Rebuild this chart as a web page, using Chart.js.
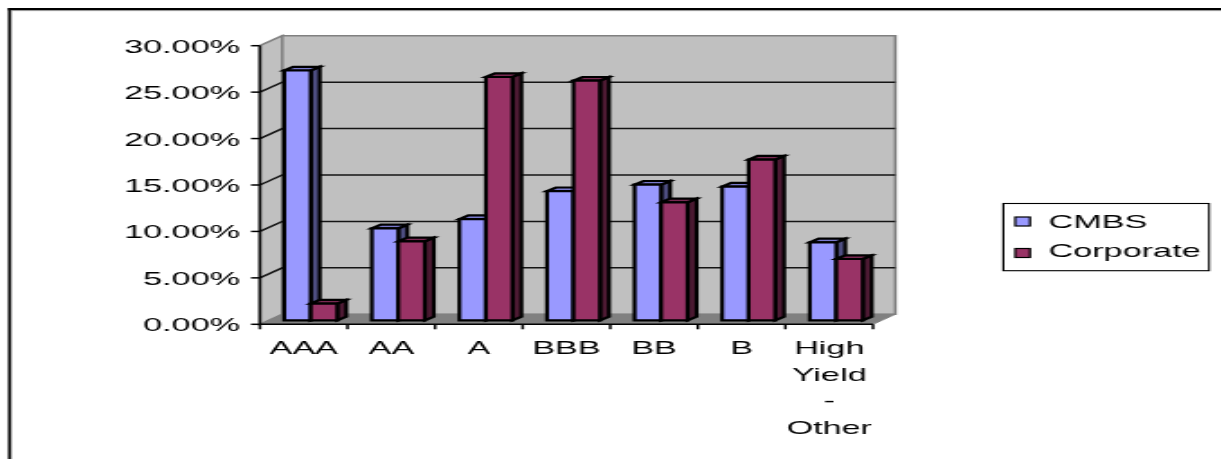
<!DOCTYPE html>
<html><head><meta charset="utf-8">
<script src="https://cdn.jsdelivr.net/npm/chart.js@4/dist/chart.umd.min.js"></script>
<style>
html,body{margin:0;padding:0;background:#fff;overflow:hidden;width:1221px;height:459px}
#wrap{width:679px;height:459px;transform:scale(1.8,1);transform-origin:0 0}
canvas{display:block}
</style></head><body>
<div id="wrap"><canvas id="c" width="679" height="459"></canvas></div>
<script>
const categories = ['AAA', 'AA', 'A', 'BBB', 'BB', 'B', ['High', 'Yield', '-', 'Other']];
const cmbs = [26.9, 9.9, 10.9, 13.9, 14.6, 14.4, 8.4];
const corporate = [1.8, 8.5, 26.2, 25.8, 12.7, 17.3, 6.6];
const yTicks = [0, 5, 10, 15, 20, 25, 30];
const yTickLabels = ['0.00%', '5.00%', '10.00%', '15.00%', '20.00%', '25.00%', '30.00%'];
const seriesNames = ['CMBS', 'Corporate'];

const FONT = '19px "Liberation Sans", Arial, sans-serif';
const WALL = {dx: 12.4, dy: -10};                      // depth of the back wall
const BAR = {dx: 3.9, dy: -4, depth: 5, rise: -3.7};   // bar position in the box and bar depth
const faces = [
  {front: '#9999FF', top: '#7878cc', side: '#4d4d80'},
  {front: '#993366', top: '#7a2952', side: '#4d1a33'}
];

function poly(ctx, pts, fill, stroke, lw) {
  ctx.beginPath();
  ctx.moveTo(pts[0][0], pts[0][1]);
  for (let i = 1; i < pts.length; i++) ctx.lineTo(pts[i][0], pts[i][1]);
  ctx.closePath();
  if (fill) { ctx.fillStyle = fill; ctx.fill(); }
  if (stroke) { ctx.strokeStyle = stroke; ctx.lineWidth = lw; ctx.lineJoin = 'miter'; ctx.stroke(); }
}

const box3d = {
  id: 'box3d',
  beforeDatasetsDraw(chart) {
    const {ctx, chartArea: a, scales: {y}} = chart;
    const L = a.left, R = a.right, T = a.top, B = a.bottom, dx = WALL.dx, dy = WALL.dy;
    ctx.save();
    // walls and floor
    poly(ctx, [[L, T], [L + dx, T + dy], [L + dx, B + dy], [L, B]], '#c0c0c0', '#808080', 1.6);
    poly(ctx, [[L + dx, T + dy], [R + dx, T + dy], [R + dx, B + dy], [L + dx, B + dy]], '#c0c0c0', '#808080', 1.6);
    poly(ctx, [[L, B], [R, B], [R + dx, B + dy], [L + dx, B + dy]], '#808080', '#808080', 1);
    // gridlines across side and back wall
    ctx.strokeStyle = '#141414';
    ctx.lineWidth = 1.5;
    yTicks.forEach(v => {
      if (v === yTicks[0] || v === yTicks[yTicks.length - 1]) return;
      const py = y.getPixelForValue(v);
      ctx.beginPath();
      ctx.moveTo(L, py);
      ctx.lineTo(L + dx, py + dy);
      ctx.lineTo(R + dx, py + dy);
      ctx.stroke();
    });
    // 3D columns
    const metas = chart.data.datasets.map((d, i) => chart.getDatasetMeta(i));
    for (let c = 0; c < categories.length; c++) {
      metas.forEach((m, si) => {
        const el = m.data[c];
        const w = el.width;
        const x0 = el.x - w / 2 + BAR.dx, x1 = el.x + w / 2 + BAR.dx;
        const top = el.y + BAR.dy, bot = el.base + BAR.dy;
        const f = faces[si], ddx = BAR.depth, ddy = BAR.rise;
        poly(ctx, [[x1, top], [x1 + ddx, top + ddy], [x1 + ddx, bot + ddy], [x1, bot]], f.side, '#000', 2.2);
        poly(ctx, [[x0, top], [x0 + ddx, top + ddy], [x1 + ddx, top + ddy], [x1, top]], f.top, '#000', 2.2);
        poly(ctx, [[x0, top], [x1, top], [x1, bot], [x0, bot]], f.front, '#000', 2.2);
      });
    }
    ctx.restore();
    return false;
  },
  afterDraw(chart) {
    const {ctx, chartArea: a, scales: {x, y}} = chart;
    const L = a.left, R = a.right, T = a.top, B = a.bottom;
    ctx.save();
    ctx.strokeStyle = '#000';
    ctx.fillStyle = '#000';
    ctx.lineWidth = 1.5;
    // value axis
    ctx.beginPath(); ctx.moveTo(L, T); ctx.lineTo(L, B); ctx.stroke();
    ctx.font = FONT;
    ctx.textAlign = 'right';
    ctx.textBaseline = 'alphabetic';
    yTicks.forEach((v, i) => {
      const py = y.getPixelForValue(v);
      ctx.beginPath(); ctx.moveTo(L - 5, py); ctx.lineTo(L, py); ctx.stroke();
      ctx.fillText(yTickLabels[i], L - 11, py + 7);
    });
    // category axis
    ctx.beginPath(); ctx.moveTo(L, B); ctx.lineTo(R, B); ctx.stroke();
    const n = categories.length, step = (R - L) / n;
    for (let i = 0; i <= n; i++) {
      const px = L + i * step;
      ctx.beginPath(); ctx.moveTo(px, B); ctx.lineTo(px, B + 5); ctx.stroke();
    }
    ctx.textAlign = 'center';
    categories.forEach((lab, i) => {
      const px = x.getPixelForValue(i);
      const lines = Array.isArray(lab) ? lab : [lab];
      lines.forEach((t, k) => ctx.fillText(t, px, 354 + k * 26.7));
    });
    // legend
    ctx.lineWidth = 1.1;
    ctx.strokeStyle = '#000';
    ctx.strokeRect(557.4, 203.5, 114.3, 67.2);
    ctx.textAlign = 'left';
    const rows = [[217, 227.5], [248.5, 257]];
    chart.data.datasets.forEach((ds, i) => {
      ctx.fillStyle = faces[i].front;
      ctx.fillRect(564, rows[i][0], 8.2, 9);
      ctx.lineWidth = 1.2;
      ctx.strokeRect(564, rows[i][0], 8.2, 9);
      ctx.fillStyle = '#000';
      ctx.fillText(ds.label, 582.5, rows[i][1]);
    });
    // outer frame
    ctx.fillStyle = '#000';
    ctx.fillRect(4.45, 8, 1.7, 460);
    ctx.fillRect(4.45, 8, 700, 2.4);
    ctx.fillStyle = '#9a9a9a';
    ctx.fillRect(6.15, 10.4, 0.4, 460);
    ctx.fillRect(6.15, 10.4, 700, 0.7);
    ctx.restore();
  }
};

new Chart(document.getElementById('c'), {
  type: 'bar',
  data: {
    labels: categories,
    datasets: [
      {label: seriesNames[0], data: cmbs, backgroundColor: faces[0].front},
      {label: seriesNames[1], data: corporate, backgroundColor: faces[1].front}
    ]
  },
  options: {
    responsive: false,
    animation: false,
    events: [],
    layout: {padding: {left: 144.4, right: 194, top: 45.7, bottom: 134.7}},
    datasets: {bar: {categoryPercentage: 0.605, barPercentage: 1.0}},
    plugins: {legend: {display: false}, tooltip: {enabled: false}},
    scales: {
      x: {display: false},
      y: {display: false, min: 0, max: 30}
    }
  },
  plugins: [box3d]
});
</script>
</body></html>
